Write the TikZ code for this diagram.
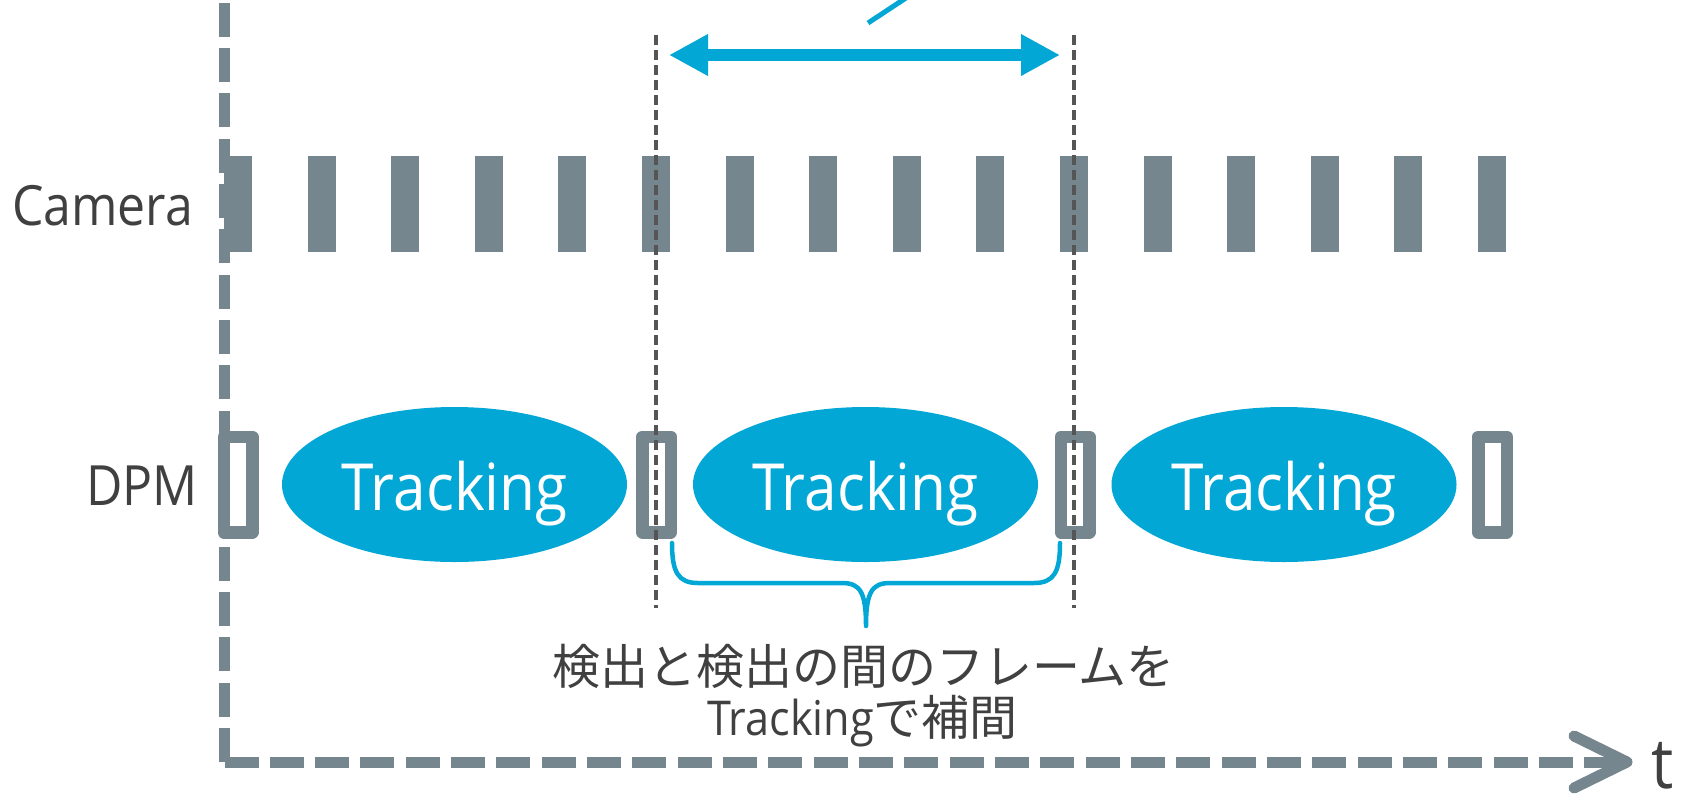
\documentclass[tikz,border=0pt]{standalone}
\usepackage{fontspec}
\usetikzlibrary{shapes.geometric,arrows.meta}
\newfontfamily\lat[FakeStretch=0.9]{Open Sans}
\newfontfamily\cjk{Noto Sans CJK JP}
\definecolor{axisgrey}{RGB}{118,134,142}
\definecolor{tblue}{RGB}{2,167,214}
\definecolor{guidegrey}{RGB}{85,85,85}
\definecolor{textgrey}{RGB}{64,64,64}
\tikzset{
  axisline/.style={draw=axisgrey, line width=11pt, dash pattern=on 34pt off 11.33pt},
  cambar/.style={fill=axisgrey, draw=none, minimum width=28pt, minimum height=96pt, inner sep=0pt},
  dpmbox/.style={draw=axisgrey, fill=white, line width=12.5pt, line join=round, minimum width=28.5pt, minimum height=95.5pt, inner sep=0pt},
  track/.style={ellipse, fill=tblue, draw=none, minimum width=345pt, minimum height=155pt, inner sep=0pt,
    text=white, font=\lat\fontsize{65}{70}\selectfont, text height=52pt, text depth=0pt},
  guide/.style={draw=guidegrey, line width=4pt, dash pattern=on 10pt off 5pt},
  lbl/.style={text=textgrey, inner sep=0pt, font=\lat\fontsize{55.5}{60}\selectfont},
  jp/.style={text=textgrey, inner sep=0pt, font=\cjk\fontsize{48}{56}\selectfont},
  barrow/.style={draw=tblue, line width=12pt, {Triangle[length=39pt,width=39pt]}-{Triangle[length=39pt,width=39pt]}},
  bracel/.style={draw=tblue, line width=4.5pt, line cap=round, line join=round},
}
\begin{document}
\begin{tikzpicture}[x=1pt,y=-1pt]
\useasboundingbox (0,0) rectangle (1686,796);
% time axis
\coordinate (o) at (224.5,762);
\coordinate (ytop) at (224.5,-10);
\coordinate (xend) at (1622,762);
\draw[axisline] (o) -- (ytop);
\draw[axisline] (o) -- (xend);
\coordinate (chv1) at (1574,736);
\coordinate (chtip) at (1627,762);
\coordinate (chv2) at (1574,788);
\draw[draw=axisgrey, line width=11pt, line cap=round, line join=round] (chv1) -- (chtip) -- (chv2);
\node[lbl, anchor=base west, font=\lat\fontsize{70}{75}\selectfont] (tlabel) at (1651,788) {t};
% camera frames
\foreach \i in {1,...,16} {
  \node[cambar] (cam\i) at ({238+83.6*(\i-1)},204) {};
}
\node[lbl, anchor=base west] (camlabel) at (12,225) {Camera};
% DPM detections
\node[dpmbox] (dpm1) at (238,484.5) {};
\node[dpmbox] (dpm2) at (656.5,484.5) {};
\node[dpmbox] (dpm3) at (1075,484.5) {};
\node[dpmbox] (dpm4) at (1492.5,484.5) {};
\node[lbl, anchor=base west] (dpmlabel) at (86,505) {DPM};
% tracking ellipses
\node[track] (tr1) at (454.5,484.5) {Tracking};
\node[track] (tr2) at (865.5,484.5) {Tracking};
\node[track] (tr3) at (1284,484.5) {Tracking};
% guide lines
\coordinate (g1t) at (656,35);
\coordinate (g1b) at (656,608);
\coordinate (g2t) at (1074,35);
\coordinate (g2b) at (1074,608);
\draw[guide] (g1t) -- (g1b);
\draw[guide] (g2t) -- (g2b);
% interval arrow
\coordinate (al) at (669,55);
\coordinate (ar) at (1060,55);
\draw[barrow] (al) -- (ar);
\coordinate (s1) at (868,23);
\coordinate (s2) at (912,-6);
\draw[draw=tblue, line width=5pt] (s1) -- (s2);
% brace
\coordinate (bl) at (672,543);
\coordinate (btip) at (866,626);
\coordinate (br) at (1060,543);
\draw[bracel] (bl) .. controls (672,572) and (678,583) .. (698,583)
  -- (842,583) .. controls (860,583) and (866,592) .. (btip)
  .. controls (866,592) and (872,583) .. (890,583)
  -- (1034,583) .. controls (1054,583) and (1060,572) .. (br);
% caption
\node[jp, anchor=base] (cap1) at (863.5,684) {検出と検出の間のフレームを};
\node[jp, anchor=base] (cap2) at (862.5,735) {{\lat Tracking}で補間};
\end{tikzpicture}
\end{document}
